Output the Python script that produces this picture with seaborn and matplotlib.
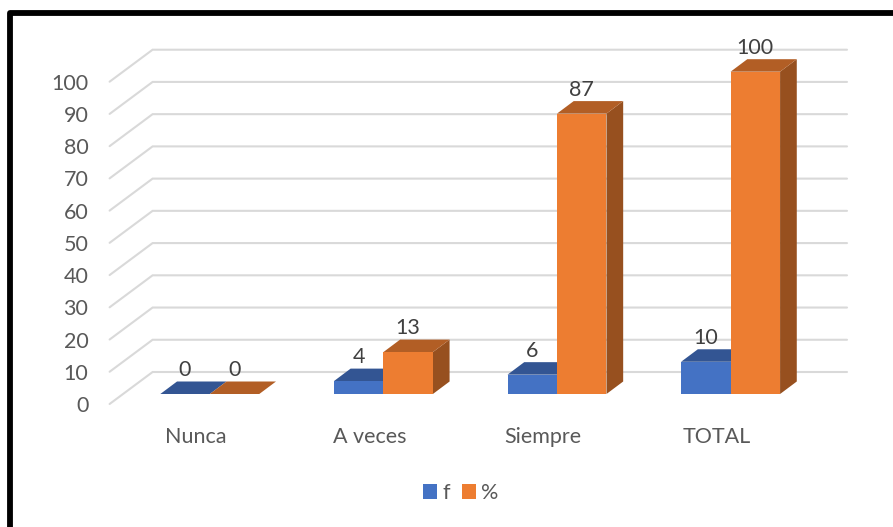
import pandas as pd
import matplotlib.pyplot as plt
import matplotlib.transforms as mtrans
from matplotlib.lines import Line2D
from matplotlib.patches import Polygon
import seaborn as sns

# --- datos ---
categorias = ['Nunca', 'A veces', 'Siempre', 'TOTAL']
valores_f = [0, 4, 6, 10]
valores_pct = [0, 13, 87, 100]
ticks_y = list(range(0, 101, 10))

df = pd.DataFrame({
    'categoria': categorias * 2,
    'valor': valores_f + valores_pct,
    'serie': ['f'] * 4 + ['%'] * 4,
})

# --- colores: frente, tapa y lado de cada serie ---
paleta = {'f': '#4472C4', '%': '#ED7D31'}
tapa = {'f': '#335593', '%': '#B25E25'}
lado = {'f': '#2F5087', '%': '#97501F'}

sns.set_theme(style='white')
plt.rcParams['font.family'] = ['Lato', 'DejaVu Sans']

W, H = 893, 527
fig = plt.figure(figsize=(W / 100, H / 100), dpi=100, facecolor='white')
ax = fig.add_axes([123 / W, (H - 394) / H, 694.4 / W, 322.3 / H])
ax.patch.set_alpha(0)

sns.barplot(data=df, x='categoria', y='valor', hue='serie', palette=paleta,
            width=0.57, gap=0, saturation=1, linewidth=0, zorder=3, ax=ax)
ax.set_xlim(-0.5, 3.5)
ax.set_ylim(0, 100)

# --- pixeles por unidad, para pasar la profundidad a unidades de datos ---
px_x = 694.4 / 4
px_y = 322.3 / 100
fondo_x, fondo_y = 16.7 / px_x, 12.5 / px_y

# --- paredes: lineas de rejilla con el tramo inclinado ---
for v in ticks_y:
    x0 = -0.5 - 13.4 / px_x
    y0 = v - 10 / px_y
    x1 = -0.5 + 29.6 / px_x
    y1 = v + 22 / px_y
    x2 = 3.5 + 29.6 / px_x
    ax.plot([x0, x1, x2], [y0, y1, y1], color='#D9D9D9', lw=1.5, zorder=1,
            clip_on=False, solid_joinstyle='miter')

# --- tapa y lado de cada barra para el efecto 3D ---
series = ['f', '%']
for n, (cont, s) in enumerate(zip(ax.containers, series)):
    for r in cont:
        x, w, h = r.get_x(), r.get_width(), r.get_height()
        ax.add_patch(Polygon([(x + w, 0), (x + w + fondo_x, fondo_y),
                              (x + w + fondo_x, h + fondo_y), (x + w, h)],
                             facecolor=lado[s], edgecolor='none', zorder=2 + n / 10, clip_on=False))
        ax.add_patch(Polygon([(x, h), (x + fondo_x, h + fondo_y),
                              (x + w + fondo_x, h + fondo_y), (x + w, h)],
                             facecolor=tapa[s], edgecolor='none', zorder=2 + n / 10, clip_on=False))
        r.set_clip_on(False)
    ax.bar_label(cont, padding=10, fontsize=15.5, color='#404040', zorder=5)

# --- ejes ---
sns.despine(ax=ax, left=True, bottom=True)
ax.set_xlabel('')
ax.set_ylabel('')
ax.set_yticks(ticks_y)
ax.tick_params(axis='y', length=0, pad=25, labelsize=15.5, labelcolor='#595959')
ax.tick_params(axis='x', length=0, pad=24, labelsize=15.5, labelcolor='#595959')
ax.grid(False)

baja = mtrans.Affine2D().translate(0, -10)
for lab in ax.get_yticklabels():
    lab.set_transform(lab.get_transform() + baja)
izq = mtrans.Affine2D().translate(-14, 0)
for lab in ax.get_xticklabels():
    lab.set_transform(lab.get_transform() + izq)

# --- leyenda abajo ---
ax.legend(loc='center', bbox_to_anchor=(461 / W, (H - 493) / H), bbox_transform=fig.transFigure,
          ncol=2, frameon=False, fontsize=15.5, labelcolor='#595959', handlelength=0.65,
          handleheight=0.65, handletextpad=0.25, columnspacing=0.55, borderpad=0)

# --- marco negro arriba y a la izquierda ---
fig.add_artist(Line2D([9.9 / W, 9.9 / W, 1], [0, (H - 13) / H, (H - 13) / H], color='black',
                      lw=4.2, solid_joinstyle='round'))

plt.savefig('out.png', dpi=100, facecolor='white')
